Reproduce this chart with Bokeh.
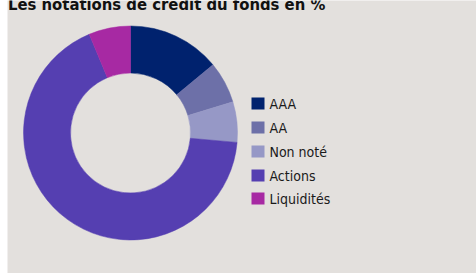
import numpy as np
from bokeh.plotting import figure
from bokeh.models import ColumnDataSource, Range1d
from bokeh.core.properties import value
from bokeh.embed import file_html
from bokeh.resources import INLINE

title = "Les notations de crédit du fonds en %"
categories = ["AAA", "AA", "Non noté", "Actions", "Liquidités"]
values = [14.0, 6.3, 6.1, 67.3, 6.3]
colors = ["#00226e", "#6d70a8", "#9698c6", "#553fb1", "#a729a3"]

W, H = 476, 273
p = figure(width=W, height=H, output_backend="svg", toolbar_location=None,
           x_range=Range1d(7, W), y_range=Range1d(0, H),
           min_border_left=7, min_border_right=0, min_border_top=0, min_border_bottom=0,
           background_fill_color="#e3e0dd", border_fill_color="white",
           outline_line_color=None)
p.axis.visible = False
p.grid.visible = False

vals = np.array(values)
frac = vals / vals.sum()
cum = np.concatenate([[0], np.cumsum(frac)])
start = np.pi / 2 - cum[:-1] * 2 * np.pi
end = np.pi / 2 - cum[1:] * 2 * np.pi
src = ColumnDataSource(dict(start=start, end=end, color=colors, cat=categories))
p.annular_wedge(x=130, y=140.5, inner_radius=60, outer_radius=107,
                start_angle="start", end_angle="end", direction="clock",
                fill_color="color", line_color="color", line_width=0.5, source=src)

ly = [170, 146, 122, 98, 75]
lsrc = ColumnDataSource(dict(x=[257.5] * 5, tx=[269] * 5, y=ly, color=colors, cat=categories))
p.rect(x="x", y="y", width=13, height=12, fill_color="color", line_color=None, source=lsrc)
p.text(x="tx", y="y", text="cat", source=lsrc, text_baseline="middle", text_align="left",
       text_font=value("DejaVu Sans Condensed"),
       text_font_size="14px", text_color="#1a1a1a")

p.text(x=[7.5], y=[269], text=[title], text_baseline="alphabetic", text_align="left",
       text_font=value("DejaVu Sans Condensed"),
       text_font_style="bold", text_font_size="16.5px", text_color="#111111")

open("out.html", "w").write(file_html(p, INLINE))
